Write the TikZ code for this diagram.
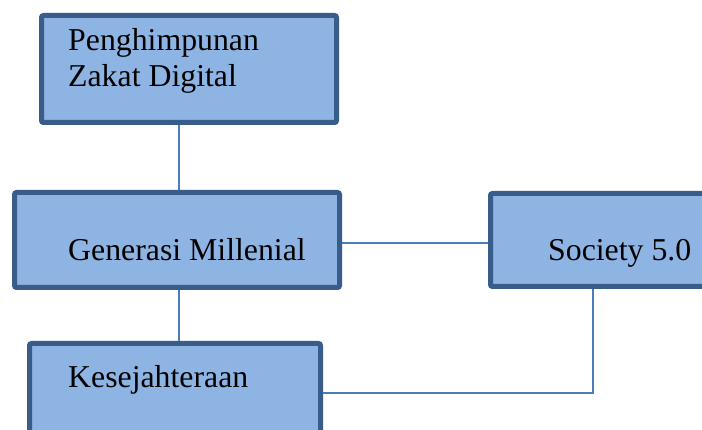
\documentclass[tikz,border=0pt]{standalone}
\usepackage{fontspec}
\setmainfont{Liberation Serif}
\usepackage{xcolor}
\usepackage{tikz}
\usetikzlibrary{positioning}
\definecolor{isiKotak}{HTML}{8EB4E3}
\definecolor{tepiKotak}{HTML}{385D8A}
\definecolor{warnaGaris}{HTML}{4A7EBB}
\newcommand*{\tebalTepi}{5pt}
\newcommand*{\tebalGaris}{1.8pt}
\tikzset{
	kotak/.style ={draw=tepiKotak,fill=isiKotak,line width=\tebalTepi,
		rounded corners=2pt,rectangle,inner sep=0pt},
	teks/.style ={anchor=base west,inner sep=0pt,align=left,
		font=\fontsize{31.8}{36}\selectfont},
	garis/.style ={draw=warnaGaris,line width=\tebalGaris}
}
\begin{document}
\begin{tikzpicture}[x=1pt,y=-1pt]
	\clip (0,0) rectangle (702,430);
	\fill[white] (0,0) rectangle (702,430);

	\node[kotak,minimum width=295pt,minimum height=107pt](zakat) at (189,69){};
	\node[kotak,minimum width=325pt,minimum height=95pt](milenial) at (177,240){};
	\node[kotak,minimum width=250pt,minimum height=93pt](society) at (615.5,240){};
	\node[kotak,minimum width=291pt,minimum height=107pt](sejahtera) at (175,397){};

	\node[teks](tZakat) at (68,87){Penghimpunan\\Zakat Digital};
	\node[teks](tMilenial) at (68,261){Generasi Millenial};
	\node[teks](tSociety) at (548,261){Society 5.0};
	\node[teks](tSejahtera) at (68,388){Kesejahteraan};

	\draw[garis] ([xshift=2pt]milenial.north) -- ([xshift=2pt]milenial.north |- zakat.south);
	\draw[garis] ([yshift=-3pt]milenial.east) -- ([yshift=-3pt]society.west);
	\draw[garis] ([xshift=2pt]milenial.south) -- ([xshift=2pt]milenial.south |- sejahtera.north);
	\draw[garis] ([xshift=-22.5pt]society.south) |- ([yshift=4pt]sejahtera.east);
\end{tikzpicture}
\end{document}
